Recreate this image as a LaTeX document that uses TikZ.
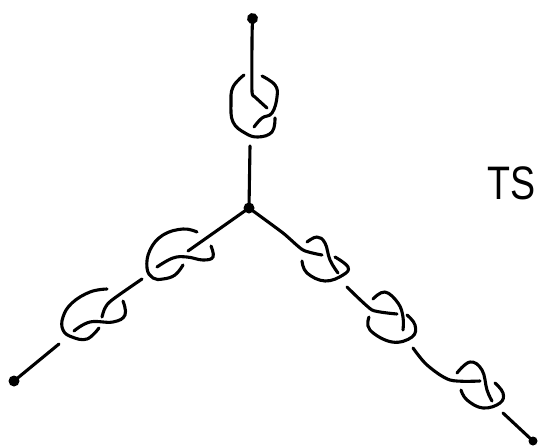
\documentclass[tikz,border=0pt]{standalone}
\usepackage{fontspec}
\setmainfont{Liberation Sans}
\tikzset{
  strand/.style={line width=3.1pt,line cap=round,line join=round,black},
  blob/.style={ellipse,fill=black,inner sep=0pt,minimum width=#1,minimum height=#1},
  lbl/.style={inner sep=0pt,anchor=base west,xscale=.8,font=\fontsize{47}{47}\selectfont}
}
\usetikzlibrary{shapes.geometric}
\begin{document}
\begin{tikzpicture}[x=1pt,y=-1pt]
\useasboundingbox (0,0) rectangle (538,447);
% end points
\node[blob=11pt,rotate=-30] (top) at (252.5,18.5) {};
\node[blob=11pt] (hub) at (249,208) {};
\node[blob=11pt] (left) at (14,381) {};
\node[blob=9pt] (right) at (533,441) {};
\node[lbl] (title) at (487,199) {TS};
% top knot
\draw[strand] plot[smooth,tension=.3] coordinates {(top.center) (252,40) (252,92) (255,97) (267,108)};
\draw[strand] plot[smooth,tension=.7] coordinates {(244,75) (233,87) (231,103) (233,122) (245,133) (258,137) (272,132) (275,118)};
\draw[strand] plot[smooth,tension=.7] coordinates {(262,76) (275,85) (277,97) (272,113) (262,118) (254,127)};
\draw[strand] (250,146) -- (hub.center);
% left arm, first knot
\draw[strand] (hub.center) -- (188,251);
\draw[strand] plot[smooth,tension=.7] coordinates {(197,232) (183,229) (163,235) (150,250) (147,268) (153,278) (163,279) (175,275) (183,265)};
\draw[strand] plot[smooth,tension=.7] coordinates {(157,267) (173,258) (187,257) (203,260) (213,257) (211,246)};
% left arm, second knot
\draw[strand] plot[smooth,tension=.5] coordinates {(142,279) (112,300) (105,308) (102,317)};
\draw[strand] plot[smooth,tension=.7] coordinates {(107,289) (90,292) (72,303) (63,317) (63,330) (72,337) (87,339) (99,328)};
\draw[strand] plot[smooth,tension=.7] coordinates {(74,331) (90,322) (113,322) (125,315) (123,301)};
\draw[strand] (59,344) -- (left.center);
% right arm, first knot
\draw[strand] plot[smooth,tension=.4] coordinates {(hub.center) (283,233) (303,250) (322,255)};
\draw[strand] plot[smooth,tension=.7] coordinates {(302,261) (307,273) (325,281) (343,275) (348,267) (335,257)};
\draw[strand] plot[smooth,tension=.7] coordinates {(307,242) (317,237) (325,243) (330,260) (338,273)};
% right arm, second knot
\draw[strand] plot[smooth,tension=.3] coordinates {(347,287) (372,310) (397,314)};
\draw[strand] plot[smooth,tension=.7] coordinates {(369,317) (370,330) (392,342) (412,337) (415,325) (407,315)};
\draw[strand] plot[smooth,tension=.7] coordinates {(373,299) (385,292) (398,303) (403,317) (403,330)};
% right arm, third knot
\draw[strand] plot[smooth,tension=.5] coordinates {(413,348) (427,365) (450,380) (480,381)};
\draw[strand] plot[smooth,tension=.7] coordinates {(461,390) (467,400) (483,408) (500,403) (503,393) (495,383)};
\draw[strand] plot[smooth,tension=.7] coordinates {(457,373) (470,362) (482,370) (487,390) (492,401)};
\draw[strand] (503,413) -- (right.center);
\end{tikzpicture}
\end{document}
